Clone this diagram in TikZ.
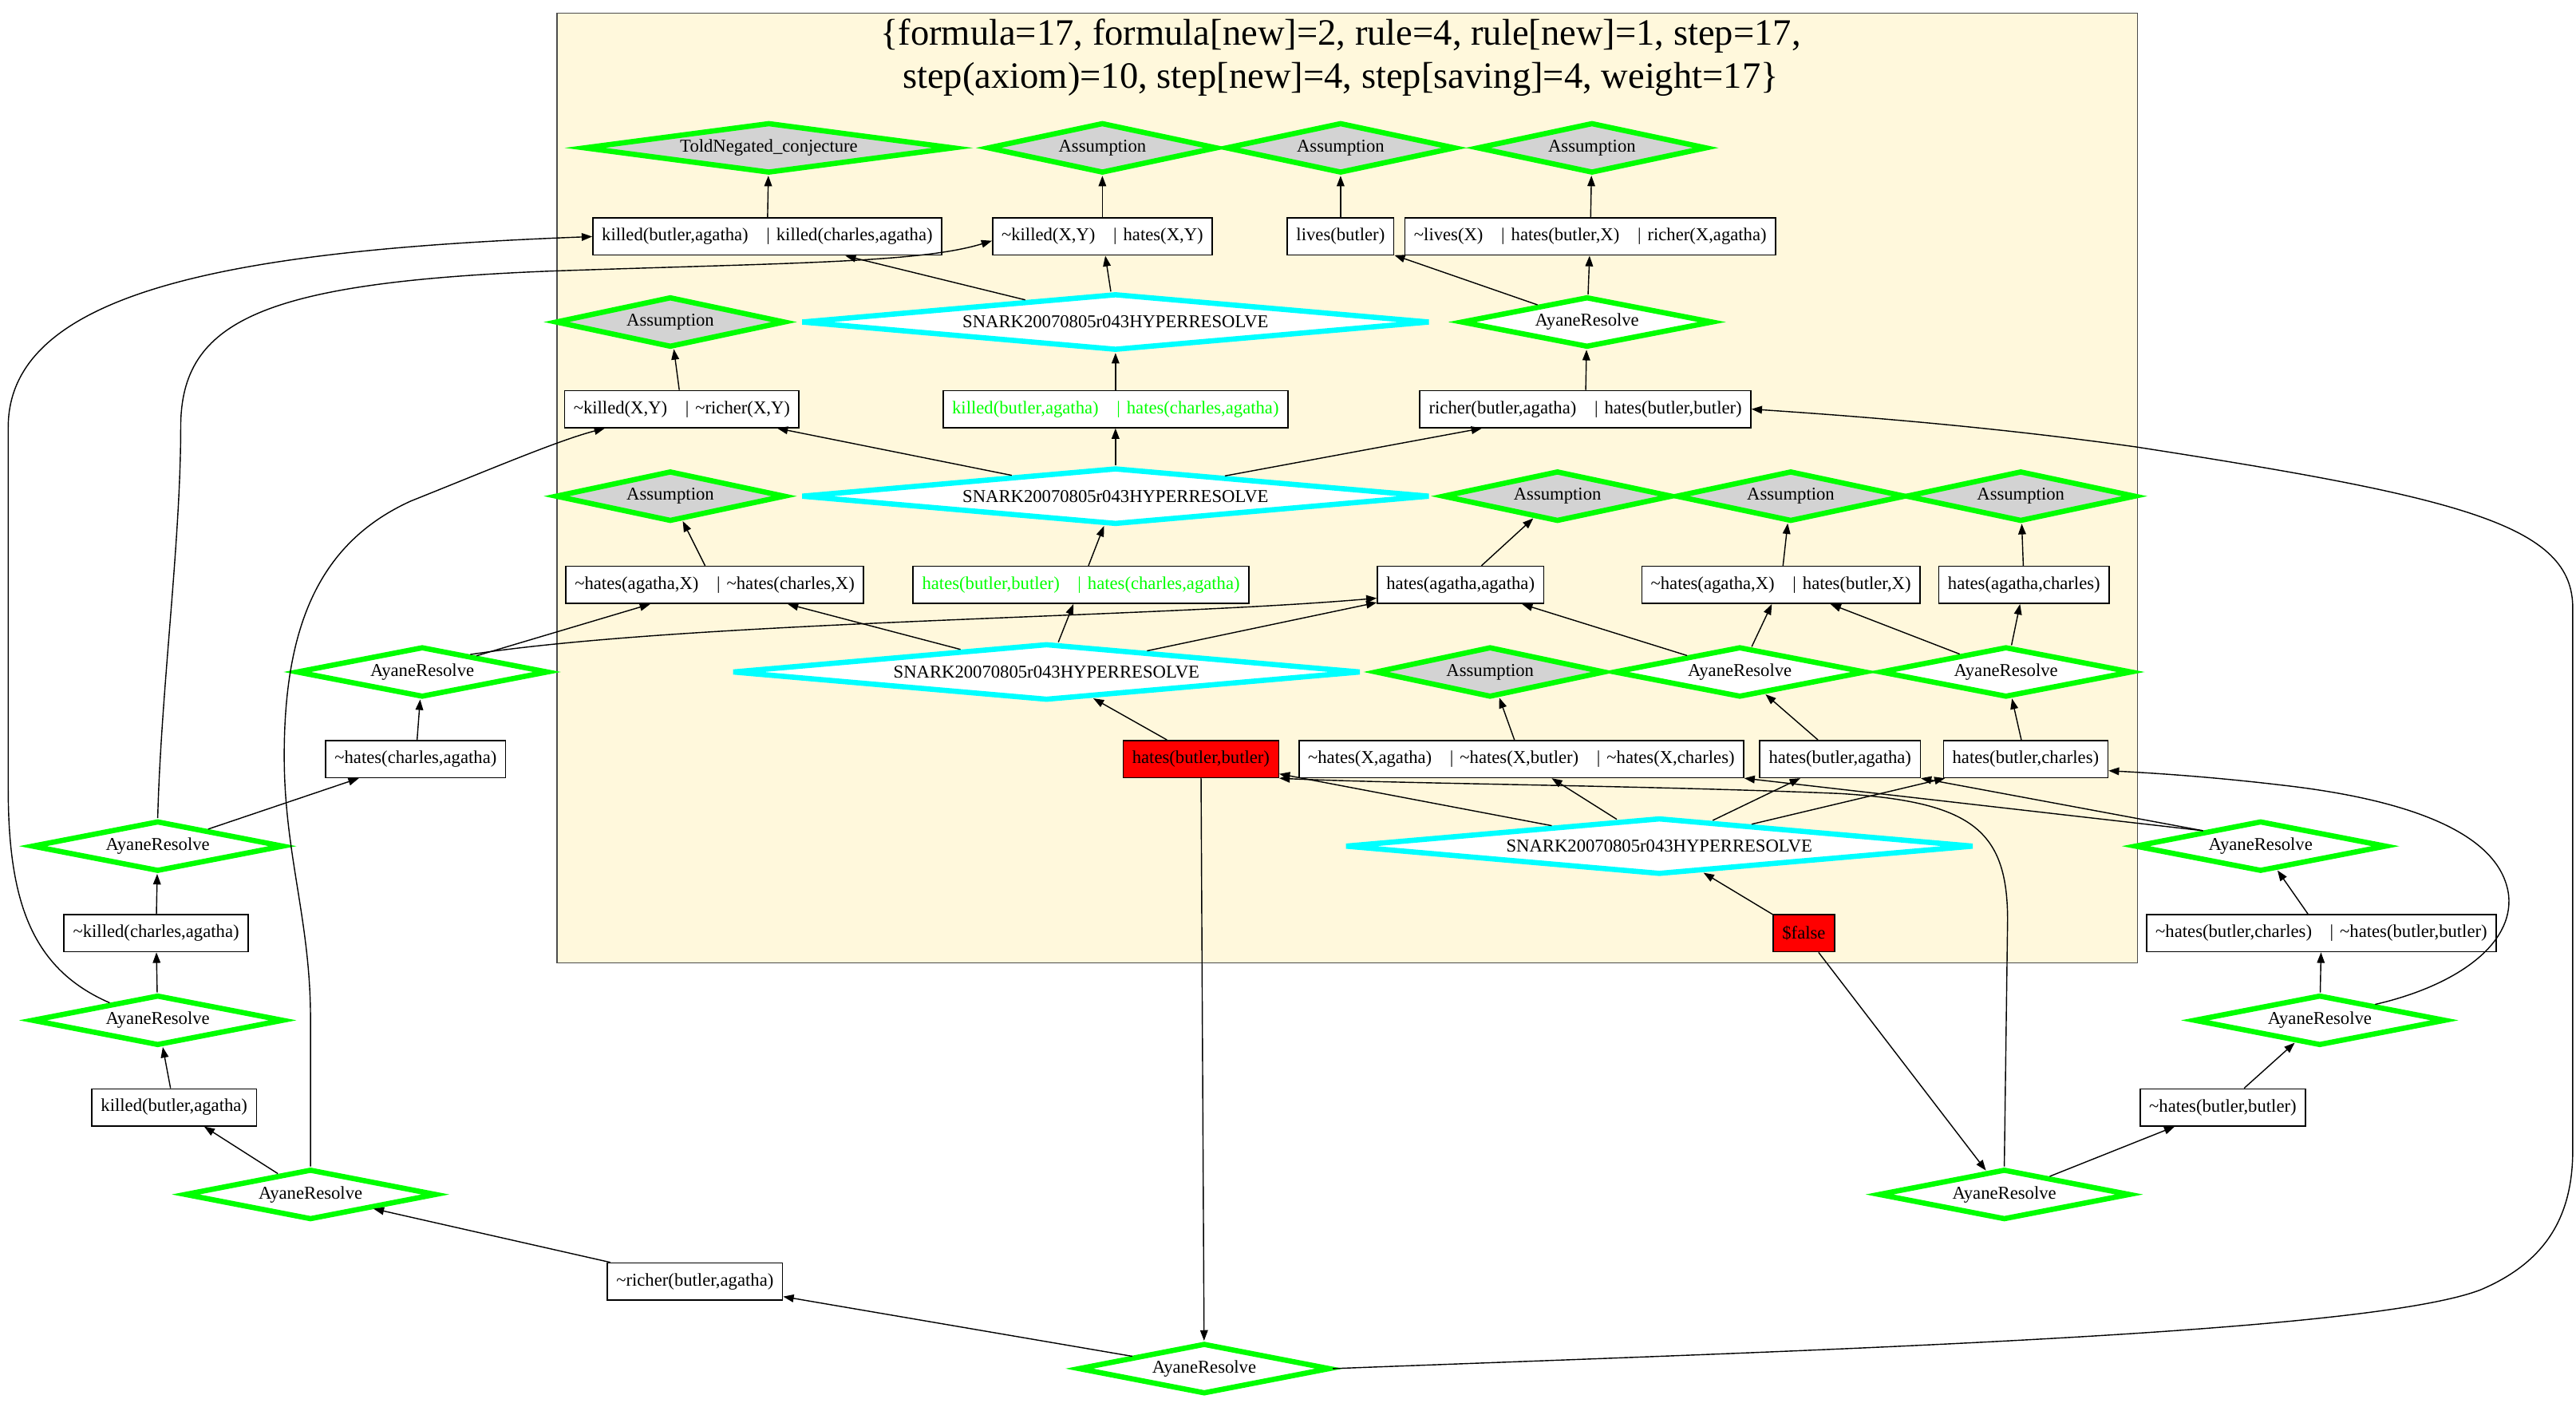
\documentclass[tikz,border=0pt]{standalone}
\usepackage{fontspec}
\setmainfont{Liberation Serif}
\usepackage{tikz}
\usetikzlibrary{shapes.geometric, arrows.meta}
\definecolor{cornsilk}{RGB}{255,248,220}
\definecolor{gvgreen}{RGB}{0,255,0}
\definecolor{gvcyan}{RGB}{0,255,255}
\definecolor{gvgray}{RGB}{211,211,211}
\definecolor{gvred}{RGB}{255,0,0}
\newcommand{\tld}{\textasciitilde}
\newcommand{\orsep}{\hspace{1em}|\hspace{0.35em}}

\begin{document}
\begin{tikzpicture}[x=0.04117cm, y=-0.04117cm,
  every node/.style={font=\fontsize{12.9}{15}\selectfont},
  clause/.style={draw, line width=0.9pt, fill=white, inner xsep=0.226cm, inner ysep=0pt, minimum height=0.93cm},
  infer/.style={diamond, shape aspect=9, inner sep=0pt, line width=3.75pt, minimum height=1.268cm},
  axiom/.style={infer, draw=gvgreen, fill=gvgray, minimum width=5.02cm},
  ayane/.style={infer, draw=gvgreen, fill=white, minimum width=5.80cm},
  snark/.style={infer, draw=gvcyan, fill=white, minimum width=15.75cm, minimum height=1.42cm},
  link/.style={-{Triangle[length=7.5pt,width=5.5pt]}, line width=0.8pt}]

\useasboundingbox (0,0) rectangle (1568,856);

% the cluster with its statistics
\draw[fill=cornsilk, draw=black!70, line width=0.9pt] (339,8) rectangle (1301,586);
\node[font=\fontsize{26.5}{30.4}\selectfont, align=center] (title) at (816,35)
  {\{formula=17, formula[new]=2, rule=4, rule[new]=1, step=17,\\step(axiom)=10, step[new]=4, step[saving]=4, weight=17\}};

% row 1
\node[axiom, minimum width=9.28cm] (told) at (468,90) {ToldNegated\_conjecture};
\node[axiom] (asA) at (671,90) {Assumption};
\node[axiom] (asB) at (816,90) {Assumption};
\node[axiom] (asC) at (969,90) {Assumption};

% row 2
\node[clause] (kk) at (467,144) {killed(butler,agatha)\orsep killed(charles,agatha)};
\node[clause] (kh) at (671,144) {\tld killed(X,Y)\orsep hates(X,Y)};
\node[clause] (lb) at (816,144) {lives(butler)};
\node[clause] (lv) at (968,144) {\tld lives(X)\orsep hates(butler,X)\orsep richer(X,agatha)};

% row 3
\node[axiom] (asD) at (408,196) {Assumption};
\node[snark] (snA) at (679,196) {SNARK20070805r043HYPERRESOLVE};
\node[ayane] (arA) at (966,196) {AyaneResolve};

% row 4
\node[clause] (kr) at (415,249) {\tld killed(X,Y)\orsep\tld richer(X,Y)};
\node[clause, text=gvgreen] (kg) at (679,249) {killed(butler,agatha)\orsep hates(charles,agatha)};
\node[clause] (rh) at (965,249) {richer(butler,agatha)\orsep hates(butler,butler)};

% row 5
\node[axiom] (asE) at (408,302) {Assumption};
\node[snark] (snB) at (679,302) {SNARK20070805r043HYPERRESOLVE};
\node[axiom] (asF) at (948,302) {Assumption};
\node[axiom] (asG) at (1090,302) {Assumption};
\node[axiom] (asH) at (1230,302) {Assumption};

% row 6
\node[clause] (hxc) at (435,356) {\tld hates(agatha,X)\orsep\tld hates(charles,X)};
\node[clause, text=gvgreen] (hg) at (658,356) {hates(butler,butler)\orsep hates(charles,agatha)};
\node[clause] (haa) at (889,356) {hates(agatha,agatha)};
\node[clause] (hab) at (1084,356) {\tld hates(agatha,X)\orsep hates(butler,X)};
\node[clause] (hac) at (1232,356) {hates(agatha,charles)};

% row 7
\node[ayane] (arL) at (257,409) {AyaneResolve};
\node[snark] (snC) at (637,409) {SNARK20070805r043HYPERRESOLVE};
\node[axiom] (asI) at (907,409) {Assumption};
\node[ayane] (arM) at (1059,409) {AyaneResolve};
\node[ayane] (arN) at (1221,409) {AyaneResolve};

% row 8
\node[clause] (hca) at (253,462) {\tld hates(charles,agatha)};
\node[clause, fill=gvred] (hbb) at (731,462) {hates(butler,butler)};
\node[clause] (hx3) at (926,462) {\tld hates(X,agatha)\orsep\tld hates(X,butler)\orsep\tld hates(X,charles)};
\node[clause] (hba) at (1120,462) {hates(butler,agatha)};
\node[clause] (hbc) at (1233,462) {hates(butler,charles)};

% row 9
\node[ayane] (arP) at (96,515) {AyaneResolve};
\node[snark] (snD) at (1010,515) {SNARK20070805r043HYPERRESOLVE};
\node[ayane] (arQ) at (1376,515) {AyaneResolve};

% row 10
\node[clause] (kca) at (95,568) {\tld killed(charles,agatha)};
\node[clause, fill=gvred] (fls) at (1098,568) {\$false};
\node[clause] (hbn) at (1413,568) {\tld hates(butler,charles)\orsep\tld hates(butler,butler)};

% rows 11 to 15
\node[ayane] (arR) at (96,621) {AyaneResolve};
\node[ayane] (arS) at (1412,621) {AyaneResolve};
\node[clause] (kba) at (106,674) {killed(butler,agatha)};
\node[clause] (nhb) at (1353,674) {\tld hates(butler,butler)};
\node[ayane] (arT) at (189,727) {AyaneResolve};
\node[ayane] (arU) at (1220,727) {AyaneResolve};
\node[clause] (rba) at (423,780) {\tld richer(butler,agatha)};
\node[ayane] (arV) at (733,833) {AyaneResolve};

% straight links
\draw[link] (kk) -- (told);
\draw[link] (kh) -- (asA);
\draw[link] (lb) -- (asB);
\draw[link] (lv) -- (asC);
\draw[link] (snA) -- (kk);
\draw[link] (snA) -- (kh);
\draw[link] (arA) -- (lb);
\draw[link] (arA) -- (lv);
\draw[link] (kr) -- (asD);
\draw[link] (kg) -- (snA);
\draw[link] (rh) -- (arA);
\draw[link] (snB) -- (kr);
\draw[link] (snB) -- (kg);
\draw[link] (snB) -- (rh);
\draw[link] (hxc) -- (asE);
\draw[link] (hg) -- (snB);
\draw[link] (haa) -- (asF);
\draw[link] (hab) -- (asG);
\draw[link] (hac) -- (asH);
\draw[link] (arL) -- (hxc);
\draw[link] (snC) -- (hxc);
\draw[link] (snC) -- (hg);
\draw[link] (snC) -- (haa);
\draw[link] (arM) -- (haa);
\draw[link] (arM) -- (hab);
\draw[link] (arN) -- (hab);
\draw[link] (arN) -- (hac);
\draw[link] (hca) -- (arL);
\draw[link] (hbb) -- (snC);
\draw[link] (hx3) -- (asI);
\draw[link] (hba) -- (arM);
\draw[link] (hbc) -- (arN);
\draw[link] (arP) -- (hca);
\draw[link] (snD) -- (hbb);
\draw[link] (snD) -- (hx3);
\draw[link] (snD) -- (hba);
\draw[link] (snD) -- (hbc);
\draw[link] (kca) -- (arP);
\draw[link] (fls) -- (snD);
\draw[link] (hbn) -- (arQ);
\draw[link] (arR) -- (kca);
\draw[link] (arS) -- (hbn);
\draw[link] (kba) -- (arR);
\draw[link] (nhb) -- (arS);
\draw[link] (arT) -- (kba);
\draw[link] (arU) -- (nhb);
\draw[link] (fls) -- (arU);
\draw[link] (rba) -- (arT);
\draw[link] (arV) -- (rba);
\draw[link] (hbb) -- (arV);
\draw[link] (arQ.165) -- (hx3.south east);
\draw[link] (arQ.165) -- (hba.south east);

% curved links
\draw[link] (arR.160) .. controls (20,590) and (5,550) .. (5,480) -- (5,260)
  .. controls (5,175) and (150,152) .. (kk.west);
\draw[link] (arP.north) .. controls (98,420) and (110,330) .. (110,260)
  .. controls (110,195) and (160,172) .. (335,165)
  .. controls (480,160) and (560,160) .. ([yshift=-3pt]kh.west);
\draw[link] (arT.north) -- (189,620) .. controls (189,560) and (173,520) .. (173,460)
  .. controls (173,380) and (195,330) .. (250,305)
  .. controls (300,285) and (340,268) .. (kr.194);
\draw[link] (arL.20) .. controls (420,378) and (700,376) .. (haa.189);
\draw[link] (arV.east) .. controls (1100,822) and (1440,812) .. (1510,785)
  .. controls (1550,768) and (1566,740) .. (1566,700) -- (1566,370)
  .. controls (1566,320) and (1500,303) .. (1300,272)
  .. controls (1200,258) and (1110,252) .. (rh.east);
\draw[link] (arS.16) .. controls (1495,600) and (1530,575) .. (1527,545)
  .. controls (1522,505) and (1460,486) .. (1390,478)
  .. controls (1340,472) and (1300,470) .. (hbc.352);
\draw[link] (arU.north) -- (1222,560) .. controls (1222,505) and (1200,488) .. (1120,483)
  .. controls (1000,478) and (850,477) .. (hbb.south east);

\end{tikzpicture}
\end{document}
